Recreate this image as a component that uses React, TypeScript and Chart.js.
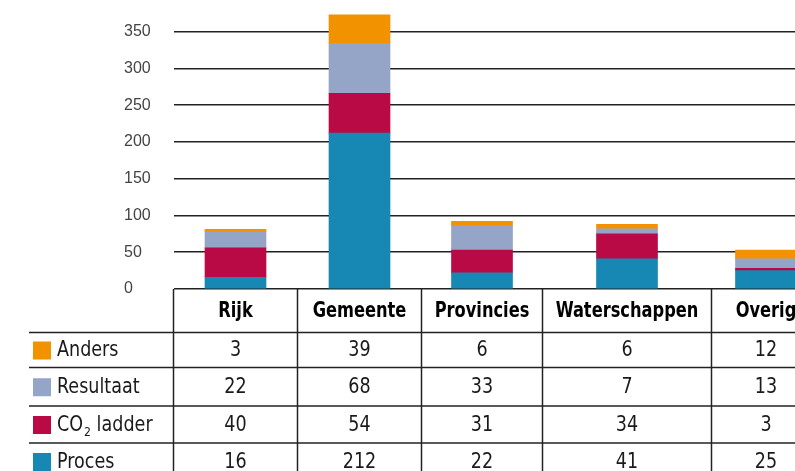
import React, { useEffect, useRef } from 'react';
import { Chart, registerables } from 'chart.js';

Chart.register(...registerables);

// ---- data ----
const categories = ['Rijk', 'Gemeente', 'Provincies', 'Waterschappen', 'Overig'];
const proces = [16, 212, 22, 41, 25];
const co2Ladder = [40, 54, 31, 34, 3];
const resultaat = [22, 68, 33, 7, 13];
const anders = [3, 39, 6, 6, 12];
const yTickStep = 50;
const yTickMax = 350;
const yAxisMax = 380;

// ---- layout / style ----
const columnWidths = [124, 124, 121, 169, 109];
const headerHeight = 43.5;
const rowHeights = [35, 38.5, 37, 37];
const COLORS = {
  anders: '#F39200',
  resultaat: '#95A5C8',
  co2: '#B90A46',
  proces: '#1787B3',
};
const LINE = '#222222';
const TEXT = '#1a1a1a';
const FONT = "'DejaVu Sans Condensed', 'DejaVu Sans', sans-serif";

const starts = columnWidths.map((_, i) => columnWidths.slice(0, i).reduce((a, b) => a + b, 0));
const centers = columnWidths.map((w, i) => starts[i] + w / 2);

const tableRows = [
  { label: 'Anders', values: anders, color: COLORS.anders },
  { label: 'Resultaat', values: resultaat, color: COLORS.resultaat },
  { label: 'CO|2| ladder', values: co2Ladder, color: COLORS.co2 },
  { label: 'Proces', values: proces, color: COLORS.proces },
];

function drawText(ctx: any, text: string, x: number, y: number, sx: number, align: string) {
  ctx.save();
  ctx.translate(x, y);
  ctx.scale(sx, 1);
  ctx.textAlign = align;
  ctx.fillText(text, 0, 0);
  ctx.restore();
}

const ROW_SX = 0.93;
const HEAD_SX = 0.86;

const tablePlugin = {
  id: 'dataTable',
  afterDraw(chart: any) {
    const { ctx, chartArea, scales } = chart;
    const xs = scales.x;
    const W = chart.width;
    const H = chart.height;
    const top = chartArea.bottom;
    ctx.save();
    ctx.strokeStyle = LINE;
    ctx.lineWidth = 1.5;

    // vertical lines
    const bounds = [chartArea.left];
    for (let i = 0; i < columnWidths.length; i++) {
      bounds.push(xs.getPixelForValue(starts[i] + columnWidths[i]));
    }
    bounds.forEach((bx) => {
      ctx.beginPath();
      ctx.moveTo(bx, top);
      ctx.lineTo(bx, H);
      ctx.stroke();
    });

    // horizontal lines
    const rowTops: number[] = [];
    let y = top + headerHeight;
    for (let r = 0; r < tableRows.length; r++) {
      ctx.beginPath();
      ctx.moveTo(29, y);
      ctx.lineTo(W, y);
      ctx.stroke();
      rowTops.push(y);
      y += rowHeights[r];
    }

    // header text
    ctx.fillStyle = '#000';
    ctx.textBaseline = 'middle';
    ctx.font = `bold 21px ${FONT}`;
    categories.forEach((c, i) => {
      drawText(ctx, c, xs.getPixelForValue(centers[i]), top + headerHeight / 2 + 1, HEAD_SX, 'center');
    });

    // rows
    tableRows.forEach((row, r) => {
      const cy = rowTops[r] + rowHeights[r] / 2 + 1;
      ctx.fillStyle = row.color;
      ctx.fillRect(33, cy - 9.5, 18, 18);
      ctx.fillStyle = TEXT;
      ctx.font = `21px ${FONT}`;
      const parts = row.label.split('|');
      let x = 57;
      parts.forEach((p, k) => {
        if (k === 1) {
          ctx.font = `13px ${FONT}`;
          drawText(ctx, p, x + 1, cy + 7, ROW_SX, 'left');
          x += ctx.measureText(p).width * ROW_SX + 1;
          ctx.font = `21px ${FONT}`;
        } else {
          drawText(ctx, p, x, cy, ROW_SX, 'left');
          x += ctx.measureText(p).width * ROW_SX;
        }
      });
      row.values.forEach((v, i) => {
        drawText(ctx, String(v), xs.getPixelForValue(centers[i]), cy, ROW_SX, 'center');
      });
    });
    ctx.restore();
  },
};

export default function App() {
  const ref = useRef<HTMLCanvasElement>(null);
  useEffect(() => {
    if (!ref.current) return;
    const mk = (label: string, values: number[], color: string) => ({
      label,
      data: values.map((v, i) => ({ x: centers[i], y: v })),
      backgroundColor: color,
      borderWidth: 0,
      barThickness: 61,
    });
    const chart = new Chart(ref.current, {
      type: 'bar',
      data: {
        datasets: [
          mk('Proces', proces, COLORS.proces),
          mk('CO2 ladder', co2Ladder, COLORS.co2),
          mk('Resultaat', resultaat, COLORS.resultaat),
          mk('Anders', anders, COLORS.anders),
        ],
      },
      options: {
        animation: false,
        responsive: false,
        maintainAspectRatio: false,
        layout: { padding: { left: 124, top: 8, right: 0, bottom: 182 } },
        plugins: { legend: { display: false }, tooltip: { enabled: false } },
        scales: {
          x: {
            type: 'linear',
            display: false,
            stacked: true,
            offset: false,
            grid: { offset: false },
            min: 0,
            max: 621.5,
          },
          y: {
            stacked: true,
            min: 0,
            max: yAxisMax,
            afterBuildTicks: (s: any) => {
              s.ticks = s.ticks.filter((t: any) => t.value <= yTickMax);
            },
            afterFit: (s: any) => {
              s.width = 49.5;
            },
            border: { display: false },
            grid: { color: LINE, lineWidth: 1.5, drawTicks: false },
            ticks: {
              stepSize: yTickStep,
              crossAlign: 'far',
              padding: 0,
              color: '#444',
              font: { family: "'Liberation Sans', Arial, sans-serif", size: 16 },
            },
          },
        },
      },
      plugins: [tablePlugin],
    } as any);
    return () => chart.destroy();
  }, []);
  return (
    <div style={{ position: 'fixed', left: 0, top: 0, width: 795, height: 471, overflow: 'hidden', background: '#fff' }}>
      <canvas ref={ref} width={795} height={471} style={{ display: 'block' }} />
    </div>
  );
}
